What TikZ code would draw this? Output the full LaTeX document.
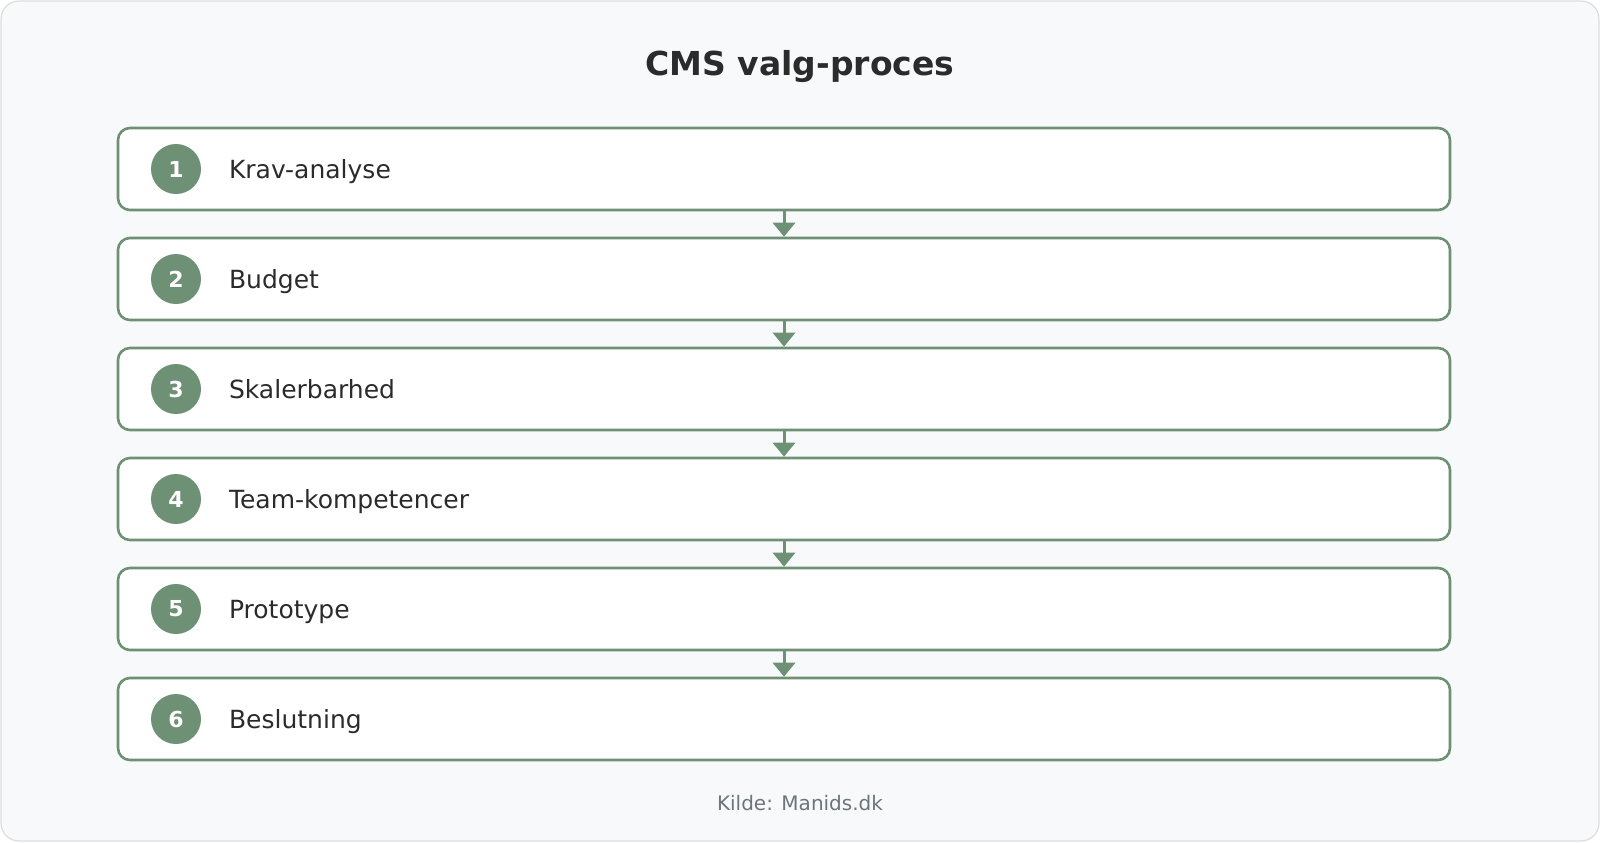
\documentclass[tikz,border=0pt]{standalone}
\usepackage{fontspec}
\setmainfont{DejaVu Sans}
\usetikzlibrary{arrows.meta,positioning}
\definecolor{stepgreen}{HTML}{6E9075}
\definecolor{bgpanel}{HTML}{F8F9FA}
\definecolor{panelline}{HTML}{DDDDDD}
\definecolor{darktext}{HTML}{2B2B2B}
\definecolor{graytext}{HTML}{6C757D}
\begin{document}
\begin{tikzpicture}[x=0.5pt,y=-0.5pt,>={Triangle[length=7pt,width=11pt]}]
    % Define the styles
    \tikzset{
        stepbox/.style={rectangle, draw=stepgreen, line width=1.3pt, fill=white, rounded corners=6pt, minimum width=666pt, minimum height=41pt, inner sep=0pt},
        badge/.style={circle, fill=stepgreen, minimum size=25pt, inner sep=0pt, text=white, font=\fontsize{11}{13}\selectfont\bfseries},
        steplabel/.style={anchor=base west, text=darktext, font=\fontsize{12.5}{15}\selectfont},
        flow/.style={->, draw=stepgreen, line width=1.5pt, color=stepgreen}
    }

    % Background panel
    \draw[fill=bgpanel, draw=panelline, line width=0.6pt, rounded corners=9pt] (1,1) rectangle (1599,841);

    % Title
    \node[text=darktext, font=\fontsize{16.5}{19}\selectfont\bfseries] (title) at (800,67) {CMS valg-proces};

    % Steps
    \foreach \i/\name in {1/Krav-analyse, 2/Budget, 3/Skalerbarhed, 4/Team-kompetencer, 5/Prototype, 6/Beslutning}{
        \node[stepbox] (box\i) at (784,{169+110*(\i-1)}) {};
        \node[badge] (num\i) at (176,{169+110*(\i-1)}) {\i};
        \node[steplabel] (lab\i) at (222,{178+110*(\i-1)}) {\name};
    }

    % Arrows
    \foreach \i [evaluate=\i as \j using int(\i+1)] in {1,...,5}{
        \draw[flow] (box\i.south) -- (box\j.north);
    }

    % Footer
    \node[text=graytext, font=\fontsize{10}{12}\selectfont] (source) at (800,803) {Kilde: Manids.dk};

    \pgfresetboundingbox
    \path[use as bounding box] (0,0) rectangle (1600,842);
\end{tikzpicture}
\end{document}
